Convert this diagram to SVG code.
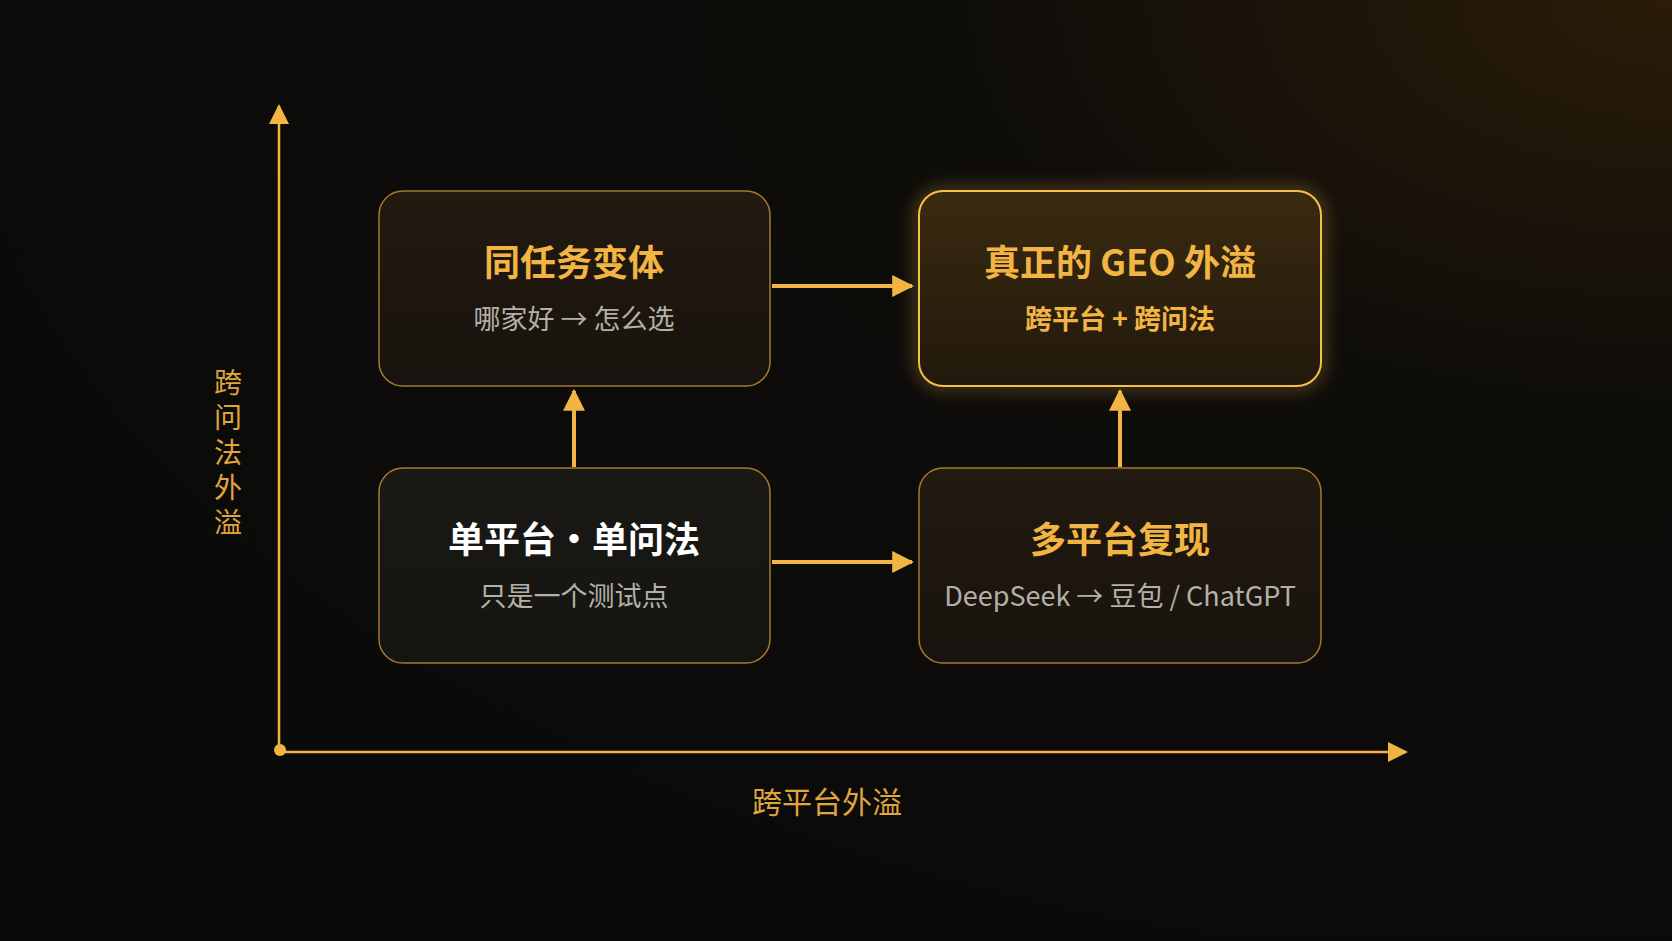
<svg xmlns="http://www.w3.org/2000/svg" width="1672" height="941" viewBox="0 0 1672 941">
<defs>
<radialGradient id="bg" cx="1" cy="0" r="1.2">
<stop offset="0" stop-color="#2a1c08"/><stop offset="0.35" stop-color="#0f0d0a"/><stop offset="1" stop-color="#0a0a0a"/>
</radialGradient>
<linearGradient id="bw" x1="0" y1="0" x2="0" y2="1"><stop offset="0" stop-color="#231a10"/><stop offset="1" stop-color="#17130e"/></linearGradient>
<linearGradient id="bd" x1="0" y1="0" x2="0" y2="1"><stop offset="0" stop-color="#1a1915"/><stop offset="1" stop-color="#141411"/></linearGradient>
<linearGradient id="bh" x1="0" y1="0" x2="0" y2="1"><stop offset="0" stop-color="#3a2a10"/><stop offset="1" stop-color="#22190c"/></linearGradient>
<filter id="glow" x="-20%" y="-20%" width="140%" height="140%"><feGaussianBlur stdDeviation="8"/></filter>
<marker id="ah" viewBox="0 0 10 10" refX="9" refY="5" markerWidth="5.5" markerHeight="5.5" orient="auto" markerUnits="strokeWidth"><path d="M0,0 L10,5 L0,10 z" fill="#f2b544"/></marker>
<marker id="ax" viewBox="0 0 10 10" refX="9" refY="5" markerWidth="8" markerHeight="8" orient="auto" markerUnits="strokeWidth"><path d="M0,0 L10,5 L0,10 z" fill="#f2b544"/></marker>
</defs>
<style>
.box{stroke:#a37a2c;stroke-width:1.5}
.t{font-family:"Noto Sans CJK SC","Noto Sans",sans-serif;font-weight:700;font-size:36px;text-anchor:middle;fill:#f2b544}
.s{font-family:"Noto Sans CJK SC","Noto Sans",sans-serif;font-size:27px;text-anchor:middle;fill:#b5b0a6}
.lab{font-family:"Noto Sans CJK SC",sans-serif;font-size:28px;fill:#e0a53c;text-anchor:middle}
.c{stroke:#f2b544;stroke-width:4;fill:none}
</style>
<rect width="1672" height="941" fill="url(#bg)"/>
<g id="axes">
<line x1="279" y1="750" x2="279" y2="106" stroke="#f2b544" stroke-width="2.5" marker-end="url(#ax)"/>
<line x1="279" y1="752" x2="1406" y2="752" stroke="#f2b544" stroke-width="2.5" marker-end="url(#ax)"/>
<circle cx="280" cy="750" r="6" fill="#f2b544"/>
<text class="lab" x="228" y="456" writing-mode="vertical-rl" style="letter-spacing:7px">跨问法外溢</text>
<text class="lab" x="827" y="813" style="font-size:30px">跨平台外溢</text>
</g>
<g id="n1"><rect class="box" x="379" y="191" width="391" height="195" rx="24" fill="url(#bw)"/>
<text class="t" x="574" y="276">同任务变体</text><text class="s" x="574" y="329">哪家好 → 怎么选</text></g>
<g id="n2"><rect x="919" y="191" width="402" height="195" rx="24" fill="none" stroke="#f2b544" stroke-width="6" opacity="0.5" filter="url(#glow)"/>
<rect x="919" y="191" width="402" height="195" rx="24" fill="url(#bh)" stroke="#f5c04a" stroke-width="2"/>
<text class="t" x="1120" y="276" fill="#f7c14e">真正的 GEO 外溢</text><text class="s" x="1120" y="329" style="fill:#f2b544;font-weight:700">跨平台 + 跨问法</text></g>
<g id="n3"><rect class="box" x="379" y="468" width="391" height="195" rx="24" fill="url(#bd)"/>
<text class="t" x="574" y="553" style="fill:#ffffff">单平台·单问法</text><text class="s" x="574" y="606">只是一个测试点</text></g>
<g id="n4"><rect class="box" x="919" y="468" width="402" height="195" rx="24" fill="url(#bw)"/>
<text class="t" x="1120" y="553">多平台复现</text><text class="s" x="1120" y="606">DeepSeek → 豆包 / ChatGPT</text></g>
<g id="connectors">
<line class="c" x1="772" y1="286" x2="912" y2="286" marker-end="url(#ah)"/>
<line class="c" x1="772" y1="562" x2="912" y2="562" marker-end="url(#ah)"/>
<line class="c" x1="574" y1="467" x2="574" y2="391" marker-end="url(#ah)"/>
<line class="c" x1="1120" y1="467" x2="1120" y2="391" marker-end="url(#ah)"/>
</g>
</svg>
